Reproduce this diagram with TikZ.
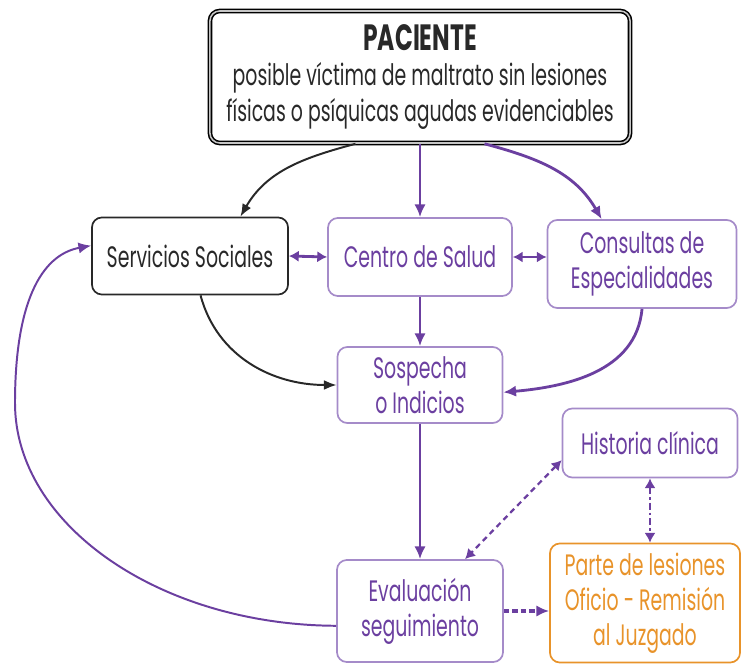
\documentclass[tikz,border=0pt]{standalone}
\usepackage{fontspec}
\setmainfont{Poppins}[FakeStretch=0.64]
\usetikzlibrary{arrows.meta}
\definecolor{morado}{RGB}{107,63,160}
\definecolor{moradoclaro}{RGB}{165,139,201}
\definecolor{naranja}{RGB}{232,147,42}
\definecolor{grisoscuro}{RGB}{40,40,40}

\begin{document}
\begin{tikzpicture}[x=0.025cm,y=0.025cm,line join=round,
  caja/.style={draw=moradoclaro,line width=1.2pt,rounded corners=7pt,align=center,
    text=morado,inner sep=2pt,font=\fontsize{21}{25}\selectfont},
  flecha/.style={morado,line width=2pt,-{Latex[length=9pt,width=8pt]}},
  flechanegra/.style={grisoscuro,line width=1.4pt,-{Latex[length=9pt,width=7pt]}},
  doble/.style={morado,line width=2pt,{Latex[length=7pt,width=8pt]}-{Latex[length=7pt,width=8pt]}}]
\useasboundingbox (0,0) rectangle (741,665);
% cajas
\node[caja,draw=black,double=gray!45,double distance=1.1pt,line width=1.1pt,text=grisoscuro,
  minimum width=10.5cm,minimum height=3.3cm,font=\fontsize{21}{25}\selectfont] (pac) at (420,588)
  {{\fontsize{26}{30}\selectfont\bfseries PACIENTE}\\posible víctima de maltrato sin lesiones\\físicas o psíquicas agudas evidenciables};
\node[caja,draw=grisoscuro,text=grisoscuro,minimum width=4.9cm,minimum height=1.925cm] (ss) at (190,409) {Servicios Sociales};
\node[caja,minimum width=4.6cm,minimum height=1.95cm] (cs) at (420,408) {Centro de Salud};
\node[caja,minimum width=4.725cm,minimum height=2.2cm] (cons) at (642,401) {Consultas de\\Especialidades};
\node[caja,minimum width=4.125cm,minimum height=1.9cm] (sosp) at (420,280) {Sospecha\\o Indicios};
\node[caja,minimum width=4.375cm,minimum height=1.725cm] (hist) at (650,222) {Historia clínica};
\node[caja,minimum width=4.15cm,minimum height=2.55cm] (eval) at (420,54) {Evaluación\\seguimiento};
\node[caja,draw=naranja,text=naranja,minimum width=4.75cm,minimum height=2.975cm] (parte) at (645,62)
  {Parte de lesiones\\Oficio - Remisión\\al Juzgado};
% conectores
\draw[flechanegra] (pac.226) to[out=195,in=60] (ss.38);
\draw[flecha] (pac.south) -- (cs.north);
\draw[flecha] (pac.314) to[out=-15,in=120] (cons.132);
\draw[doble] (ss.east) -- (cs.west);
\draw[doble] (cs.east) -- (cs.east -| cons.west);
\draw[flecha] (cs.south) -- (sosp.north);
\draw[flechanegra] (ss.285) to[out=-75,in=180] (sosp.west);
\draw[flecha] (cons.south) to[out=-95,in=5] (sosp.355);
\draw[flecha] (sosp.south) -- (eval.north);
\draw[doble,line width=1.6pt,dash pattern=on 4pt off 3pt] (hist.191) -- (eval.49);
\draw[doble,line width=1.6pt,dash pattern=on 5pt off 2pt on 2pt off 2pt] (hist.south) -- (hist.south |- parte.north);
\draw[flecha,line width=3pt,dash pattern=on 4pt off 2pt] (eval.east) -- (eval.east -| parte.west);
\draw[flecha,line width=1.4pt] (eval.190) .. controls (160,40) and (15,140) .. (15,262)
  .. controls (15,360) and (40,410) .. (ss.174);
\end{tikzpicture}
\end{document}
